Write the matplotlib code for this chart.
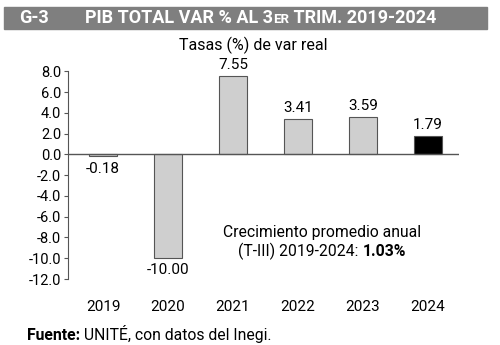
import matplotlib
matplotlib.use("Agg")
import matplotlib.pyplot as plt
from matplotlib.offsetbox import TextArea, HPacker, AnnotationBbox
from matplotlib.patches import Rectangle

years = ["2019", "2020", "2021", "2022", "2023", "2024"]
values = [-0.18, -10.00, 7.55, 3.41, 3.59, 1.79]
labels = ["-0.18", "-10.00", "7.55", "3.41", "3.59", "1.79"]
yticks = [8, 6, 4, 2, 0, -2, -4, -6, -8, -10, -12]

FONT = "Roboto"
plt.rcParams["font.family"] = [FONT, "DejaVu Sans"]

fig = plt.figure(figsize=(5, 3.45), dpi=100)
ax = fig.add_axes([0.136, 0.1913, 0.782, 0.6015])

colors = ["#cfcfcf"] * 5 + ["#000000"]
x = range(len(years))
ax.bar(x, values, width=0.43, color=colors, edgecolor="#555555", linewidth=0.8, zorder=2)
ax.axhline(0, color="#555555", lw=1.0, zorder=3)

for i, (v, lab) in enumerate(zip(values, labels)):
    if v >= 0:
        ax.text(i, v + 0.4, lab, ha="center", va="bottom", fontsize=11)
    else:
        ax.text(i, v - 0.5, lab, ha="center", va="top", fontsize=11)

ax.set_xlim(-0.54, 5.48)
ax.set_ylim(-12, 8)
ax.set_yticks(yticks)
ax.set_yticklabels([f"{t:.1f}" for t in yticks], fontsize=10.5)
ax.set_xticks(list(x))
ax.set_xticklabels(years, fontsize=11)
ax.tick_params(axis="x", length=0, pad=15)
ax.tick_params(axis="y", length=3, color="#555555", pad=2)
for s in ["top", "right", "bottom"]:
    ax.spines[s].set_visible(False)
ax.spines["left"].set_color("#555555")


def packed(parts, xy, align):
    box = HPacker(children=[TextArea(t, textprops=p) for t, p in parts],
                  align="baseline", pad=0, sep=0)
    ab = AnnotationBbox(box, xy, xycoords="figure fraction",
                        box_alignment=align, frameon=False)
    fig.add_artist(ab)


# header bar
fig.add_artist(Rectangle((4 / 500, 1 - 29 / 345), 483 / 500, 22 / 345,
                         transform=fig.transFigure, color="#7f7f7f", zorder=0))
hdr = dict(color="white", fontweight="bold", fontsize=13)
fig.text(19 / 500, 1 - 18 / 345, "G-3", va="center", **hdr)
packed([("PIB TOTAL VAR % AL 3", hdr),
        ("ER", dict(hdr, fontsize=9.5)),
        (" TRIM. 2019-2024", hdr)], (85 / 500, 1 - 18 / 345), (0, 0.5))

fig.text(253 / 500, 1 - 45 / 345, "Tasas (%) de var real", ha="center", va="center", fontsize=11.5)

# average growth note
fig.text(322 / 500, 1 - 233 / 345, "Crecimiento promedio anual", ha="center", va="center", fontsize=11.3)
packed([("(T-III) 2019-2024: ", dict(fontsize=11.3)),
        ("1.03%", dict(fontsize=11.3, fontweight="bold"))], (322 / 500, 1 - 251 / 345), (0.5, 0.5))

packed([("Fuente:", dict(fontsize=11.3, fontweight="bold")),
        (" UNITÉ, con datos del Inegi.", dict(fontsize=11.3))], (27 / 500, 1 - 334 / 345), (0, 0.5))

fig.savefig("out.png", dpi=100)
